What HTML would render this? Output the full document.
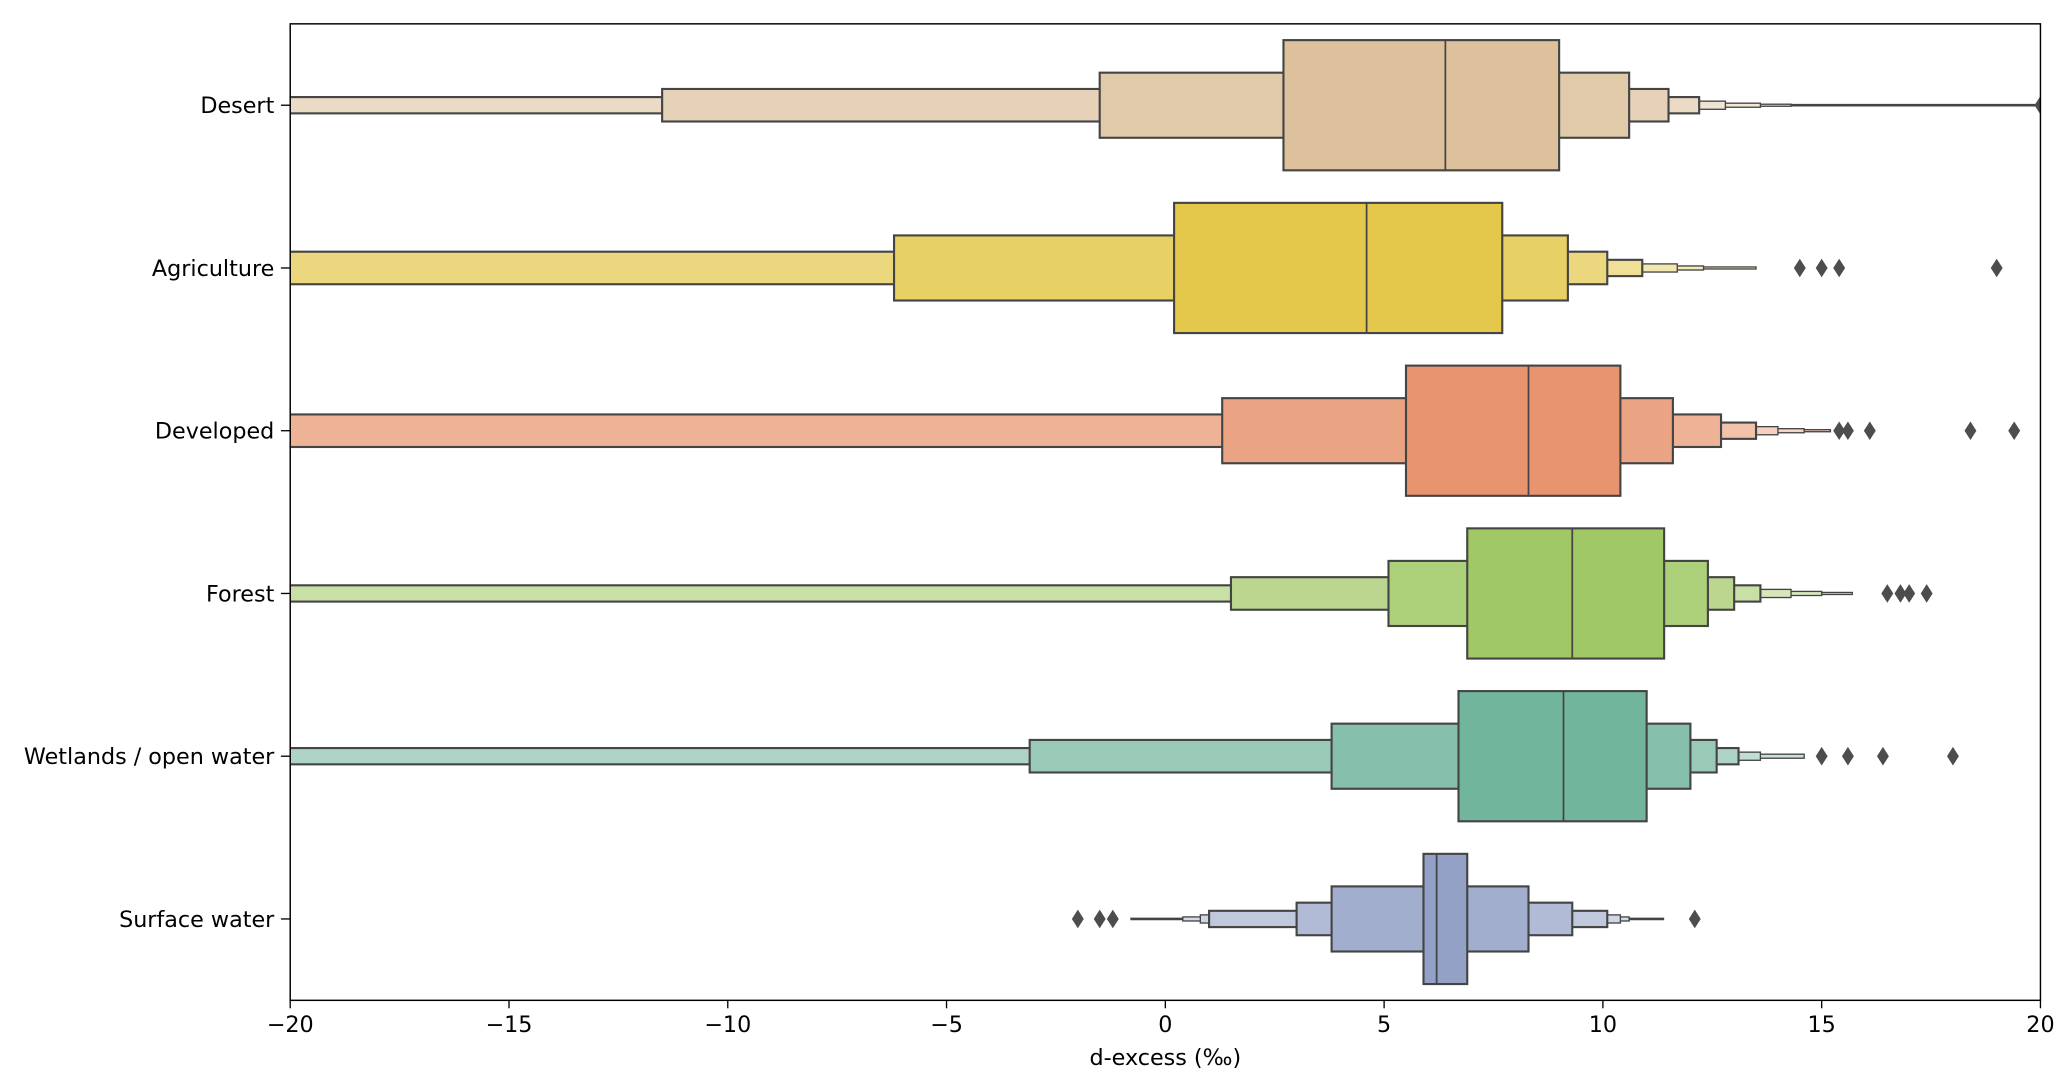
<!DOCTYPE html>
<html><head><meta charset="utf-8"><style>
html,body{margin:0;padding:0;background:#fff}
svg{display:block;font-family:"DejaVu Sans","Liberation Sans",sans-serif}
</style></head><body>
<svg id="chart" width="2067" height="1083" viewBox="0 0 1560 817.4" xmlns="http://www.w3.org/2000/svg">
<defs><clipPath id="clip"><rect x="219" y="18" width="1321" height="737"/></clipPath></defs>
<g id="plot" clip-path="url(#clip)"></g>
<g id="axes"></g>
</svg>
<script>
const categories = ["Desert","Agriculture","Developed","Forest","Wetlands / open water","Surface water"];
const medians = [6.4, 4.6, 8.3, 9.3, 9.1, 6.2];
const lows = [
  [2.7,-1.5,-11.5,-30,-31,-32,-33,-34],
  [0.2,-6.2,-25,-26,-27,-28,-29],
  [5.5,1.3,-25,-26,-27,-28,-29],
  [6.9,5.1,1.5,-25,-26,-27,-28],
  [6.7,3.8,-3.1,-25,-26,-27],
  [5.9,3.8,3.0,1.0,0.8,0.4]
];
const highs = [
  [9.0,10.6,11.5,12.2,12.8,13.6,14.3,15.6],
  [7.7,9.2,10.1,10.9,11.7,12.3,13.5],
  [10.4,11.6,12.7,13.5,14.0,14.6,15.2],
  [11.4,12.4,13.0,13.6,14.3,15.0,15.7],
  [11.0,12.0,12.6,13.1,13.6,14.6],
  [6.9,8.3,9.3,10.1,10.4,10.6]
];
const whiskerLo = [-34, -29, -29, -28, -27, -0.8];
const whiskerHi = [20, 13.5, 15.2, 15.7, 14.6, 11.4];
const outliers = [
  [20],
  [14.5,15.0,15.4,19.0],
  [15.4,15.6,16.1,18.4,19.4],
  [16.5,16.8,17.0,17.4],
  [15.0,15.6,16.4,18.0],
  [-2.0,-1.5,-1.2,12.1]
];
const baseColors = ["#dcc19c","#e3c84b","#e8956f","#a0c864","#72b59d","#92a1c5"];
const xTicks = [-20,-15,-10,-5,0,5,10,15,20];
const tickLabels = ["\u221220","\u221215","\u221210","\u22125","0","5","10","15","20"];

const L=219,R=1540,T=18,B=755;
const x = v => L + (v+20)/40*(R-L);
const band = (B-T)/categories.length;
const yc = i => T + (i+0.5)*band;
const NS="http://www.w3.org/2000/svg";
function mk(tag, attrs, parent){const e=document.createElementNS(NS,tag);for(const k in attrs)e.setAttribute(k,attrs[k]);parent.appendChild(e);return e;}
function mix(hex,f){const n=parseInt(hex.slice(1),16);let r=n>>16,g=(n>>8)&255,b=n&255;
 r=Math.round(r+(255-r)*f);g=Math.round(g+(255-g)*f);b=Math.round(b+(255-b)*f);return `rgb(${r},${g},${b})`;}
const plot=document.getElementById('plot'), axes=document.getElementById('axes');

categories.forEach((c,i)=>{
  const g=mk('g',{},plot);
  
  
  const cy=yc(i);
  const wl=mk('line',{x1:x(whiskerLo[i]),x2:x(whiskerHi[i]),y1:cy,y2:cy,stroke:'#444','stroke-width':2},g);
  
  
  const n=lows[i].length;
  for(let k=n-1;k>=0;k--){
    const h=band*0.8/Math.pow(2,k);
    const r=mk('rect',{x:x(lows[i][k]),y:cy-h/2,width:x(highs[i][k])-x(lows[i][k]),height:h,
      fill:mix(baseColors[i],Math.min(0.6,k*0.14)),stroke:'#444','stroke-width':k>3?1:1.6},g);
    
    
  }
  const h0=band*0.8;
  const m=mk('line',{x1:x(medians[i]),x2:x(medians[i]),y1:cy-h0/2,y2:cy+h0/2,stroke:'#444','stroke-width':1.3},g);
  
  
  outliers[i].forEach(v=>{
    const px=x(v);
    const d=mk('polygon',{points:`${px},${cy-7} ${px+4.5},${cy} ${px},${cy+7} ${px-4.5},${cy}`,fill:'#4d4d4d'},g);
    
    
  });
  const t=mk('text',{x:207,y:cy+6,'text-anchor':'end','font-size':16.8,fill:'#000'},axes);
  t.textContent=c;
  
  
  mk('line',{x1:212,x2:L,y1:cy,y2:cy,stroke:'#000','stroke-width':1},axes);
});
const frame=mk('rect',{x:L,y:T,width:R-L,height:B-T,fill:'none',stroke:'#000','stroke-width':1.1},axes);


xTicks.forEach((v,j)=>{
  mk('line',{x1:x(v),x2:x(v),y1:B,y2:B+6,stroke:'#000','stroke-width':1},axes);
  const t=mk('text',{x:x(v),y:B+24,'text-anchor':'middle','font-size':16.8,fill:'#000'},axes);
  t.textContent=tickLabels[j];
  
  
});
const xt=mk('text',{x:(L+R)/2,y:B+49,'text-anchor':'middle','font-size':16.8,fill:'#000'},axes);
xt.textContent='d-excess (\u2030)';


</script>
</body></html>
